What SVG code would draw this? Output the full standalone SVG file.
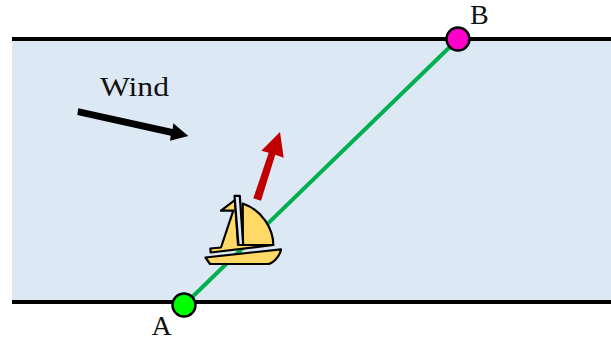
<svg xmlns="http://www.w3.org/2000/svg" width="611" height="341" viewBox="0 0 611 341">
<style>
.bank{stroke:#000;stroke-width:4;fill:none}
.pt{stroke:#000;stroke-width:2.4}
.lbl{font-family:"Liberation Serif","Times New Roman",serif;font-size:28px;fill:#111}
.boat{fill:#ffd966;stroke:#000;stroke-width:2.200;stroke-linejoin:round}
</style>
<rect x="12" y="39" width="599" height="263" fill="#dde8f5"/>
<g id="banks"><line class="bank" x1="12" y1="39" x2="611" y2="39"/><line class="bank" x1="12" y1="302" x2="611" y2="302"/></g>
<g id="connectors"><line x1="184" y1="305" x2="458" y2="39" stroke="#00b050" stroke-width="4"/></g>
<g id="wind"><text class="lbl" x="100" y="96" textLength="69" lengthAdjust="spacingAndGlyphs">Wind</text>
<path d="M78.300 108.300L172.700 129L173.300 123.300L188.300 136L170 140.700L170.700 135.700L77.300 115Z" fill="#000"/></g>
<g id="heading"><path d="M253.300 198.300L268.700 152.700L261.300 150.700L280 132L283.700 157.700L275.300 154.700L261 200.700Z" fill="#c00000"/></g>
<g id="boat">
<path class="boat" d="M210.300 248.500L221 247.500L233.300 210.500L221 210.700L235 200L238 245L273.300 245L210.700 252.500Z"/>
<path class="boat" d="M242.700 203.500C262 210 273.300 229 273.300 245L243 245Z"/>
<path class="boat" d="M234.500 195.800L239.800 195.800L243.200 245L238.500 245Z" style="fill:#dde8f5"/>
<path class="boat" d="M205.500 257.500L281 249.300C280 256 273 263.500 268 264L210 264Z"/>
</g>
<g id="A"><circle class="pt" cx="184" cy="305" r="11.500" fill="#00ff00"/><text class="lbl" x="151.500" y="335">A</text></g>
<g id="B"><circle class="pt" cx="458" cy="39" r="11.500" fill="#ff00cc"/><text class="lbl" x="470" y="24">B</text></g>
</svg>
